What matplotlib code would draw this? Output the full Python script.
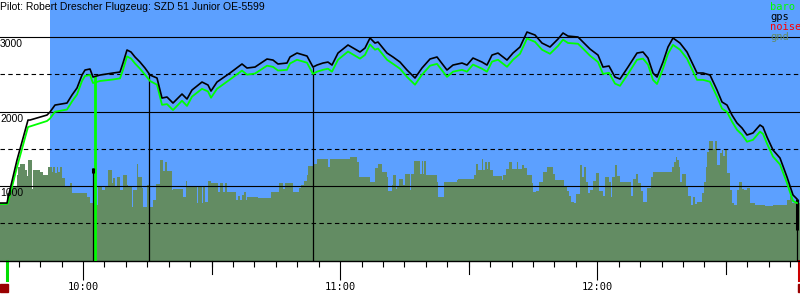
import matplotlib
matplotlib.use("Agg")
import matplotlib.pyplot as plt
import matplotlib.transforms as mtransforms
import numpy as np

# time in seconds relative to 10:00, altitude in m
title = "Pilot: Robert Drescher Flugzeug: SZD 51 Junior OE-5599"

gps_t = [-1162, -1064, -1050, -924, -770, -742, -504, -462, -392, -224, -154, -84, -14, 28, 98,
         140, 238, 420, 518, 560, 616, 672, 728, 798, 868, 938, 1036, 1106, 1176, 1260, 1386,
         1456, 1526, 1666, 1750, 1792, 1876, 2058, 2226, 2296, 2408, 2576, 2660, 2730, 2856,
         2898, 2996, 3136, 3220, 3276, 3360, 3430, 3486, 3570, 3710, 3878, 3948, 4018, 4088,
         4130, 4256, 4340, 4438, 4536, 4648, 4746, 4858, 4956, 5096, 5180, 5306, 5376, 5460,
         5586, 5656, 5726, 5810, 5936, 6020, 6118, 6216, 6328, 6426, 6538, 6650, 6720, 6790,
         6930, 7000, 7098, 7210, 7280, 7364, 7448, 7518, 7630, 7756, 7840, 7910, 7980, 8036,
         8120, 8190, 8260, 8358, 8456, 8596, 8680, 8778, 8876, 8946, 9016, 9086, 9156, 9226,
         9296, 9380, 9478, 9520, 9576, 9660, 9758, 9856, 9940, 9996]
gps_alt = [772, 772, 839, 1349, 1886, 1886, 1953, 1994, 2087, 2114, 2222, 2316, 2490, 2557, 2571,
           2463, 2490, 2517, 2530, 2651, 2826, 2799, 2732, 2664, 2584, 2490, 2450, 2181, 2195, 2114, 2235,
           2168, 2289, 2396, 2356, 2275, 2396, 2517, 2638, 2584, 2597, 2705, 2691, 2638, 2651,
           2732, 2785, 2745, 2597, 2624, 2651, 2664, 2624, 2785, 2893, 2799, 2852, 2987, 2919,
           2933, 2785, 2732, 2664, 2557, 2450, 2584, 2705, 2732, 2557, 2624, 2651, 2624, 2718,
           2664, 2624, 2758, 2785, 2691, 2785, 2866, 3067, 3027, 2919, 2866, 2973, 3054, 3013,
           3000, 2933, 2839, 2758, 2597, 2611, 2463, 2436, 2597, 2785, 2799, 2718, 2517, 2463,
           2664, 2866, 2987, 2919, 2799, 2517, 2517, 2490, 2289, 2128, 2087, 1953, 1846, 1779,
           1685, 1712, 1819, 1792, 1658, 1484, 1376, 1121, 880, 826]
baro_alt = [759, 759, 772, 1255, 1792, 1800, 1873, 1906, 1997, 2027, 2135, 2228, 2410, 2477, 2490,
            2383, 2410, 2430, 2445, 2560, 2740, 2712, 2645, 2575, 2495, 2410, 2360, 2090, 2100, 2020, 2145,
            2075, 2200, 2305, 2270, 2185, 2305, 2430, 2550, 2495, 2510, 2615, 2600, 2550, 2560,
            2645, 2695, 2655, 2505, 2535, 2560, 2575, 2535, 2695, 2805, 2710, 2760, 2900, 2830,
            2845, 2695, 2640, 2575, 2465, 2360, 2495, 2615, 2640, 2465, 2535, 2560, 2535, 2630,
            2575, 2535, 2670, 2695, 2600, 2695, 2775, 2980, 2935, 2830, 2775, 2880, 2965, 2920,
            2910, 2845, 2750, 2665, 2505, 2520, 2375, 2345, 2505, 2695, 2710, 2630, 2425, 2370,
            2575, 2775, 2895, 2830, 2710, 2425, 2425, 2400, 2200, 2040, 1995, 1865, 1755, 1690,
            1595, 1620, 1730, 1700, 1570, 1395, 1290, 1040, 800, 772]

gnd_t = [-1162, -1064, -1022, -924, -910, -882, -812, -784, -770, -714, -700, -602, -560, -490,
         -434, -420, -392, -364, -350, -322, -294, -252, -182, -154, 56, 98, 168, 210, 266, 308,
         350, 406, 420, 448, 476, 518, 560, 616, 630, 686, 700, 756, 770, 826, 840, 896, 938,
         980, 1022, 1078, 1120, 1148, 1176, 1246, 1260, 1400, 1442, 1456, 1596, 1610, 1666,
         1680, 1708, 1750, 1792, 1890, 1918, 1960, 1988, 2016, 2142, 2170, 2198, 2226, 2254,
         2282, 2296, 2450, 2632, 2744, 2800, 2828, 2940, 3024, 3052, 3094, 3136, 3150, 3220,
         3276, 3430, 3458, 3738, 3836, 3864, 4018, 4088, 4130, 4186, 4256, 4270, 4326, 4340,
         4382, 4396, 4424, 4480, 4508, 4578, 4592, 4634, 4718, 4746, 4760, 4774, 4802, 4956,
         4970, 5054, 5236, 5250, 5474, 5502, 5530, 5586, 5600, 5628, 5656, 5670, 5698, 5740,
         5866, 5880, 5922, 5964, 6006, 6076, 6090, 6146, 6174, 6216, 6286, 6300, 6342, 6384,
         6440, 6496, 6580, 6608, 6734, 6776, 6804, 6832, 6874, 6902, 6958, 6986, 7014, 7042,
         7070, 7098, 7140, 7182, 7224, 7280, 7308, 7364, 7392, 7406, 7448, 7476, 7518, 7672,
         7700, 7742, 7770, 7812, 7840, 7896, 7952, 7980, 8246, 8274, 8302, 8316, 8344, 8358,
         8386, 8442, 8470, 8512, 8540, 8568, 8596, 8666, 8694, 8722, 8736, 8764, 8820, 8848,
         8876, 8918, 8946, 8960, 8988, 9016, 9058, 9086, 9114, 9156, 9184, 9226, 9254, 9296,
         9338, 9408, 9548, 9660, 9856, 9898, 9926, 10038]
gnd_alt = [759, 906, 987, 1148, 1255, 1296, 1215, 1135, 1349, 960, 1215, 1188, 1148, 1255,
           1188, 1255, 1175, 1255, 1188, 1255, 1108, 987, 1041, 906, 853, 772, 745, 1000, 947, 1000,
           1215, 1041, 1108, 987, 1121, 947, 1148, 1014, 987, 718, 947, 1296, 1121, 974, 718, 1014, 718,
           813, 1027, 1349, 1202, 1322, 1202, 947, 960, 853, 1068, 1000, 772, 1000, 772,
           1000, 786, 1068, 1041, 920, 1041, 920, 1041, 920, 813, 866, 813, 880, 920,
           813, 853, 839, 920, 1041, 960, 1041, 920, 974, 1014, 1068, 1148, 1269, 1296,
           1363, 1255, 1363, 1390, 1322, 1121, 1054, 1242, 1296, 1188, 1121, 933, 1014, 1148,
           960, 1000, 1094, 1014, 1161, 947, 1161, 1336, 1161, 1336, 1161, 1336, 1148, 1054,
           853, 1054, 1081, 1094, 1148, 1296, 1215, 1363, 1215, 1322, 1229, 1322, 1215, 1135,
           1081, 1148, 1229, 1322, 1229, 1322, 1229, 1282, 1242, 1148, 1041, 920, 933, 1054,
           1188, 1255, 1161, 1081, 1000, 933, 866, 786, 772, 893, 1282, 1121, 1255, 1054,
           906, 947, 1068, 1175, 933, 866, 1121, 1054, 853, 1121, 1282, 1135, 1054, 866,
           1094, 1161, 1041, 933, 786, 974, 1121, 1188, 1255, 1322, 1390, 1349, 1255, 1054,
           1161, 987, 866, 745, 853, 759, 786, 906, 1054, 1255, 1457, 1604, 1497, 1604,
           1282, 1443, 1483, 1403, 1483, 1175, 947, 772, 745, 947, 1054, 960, 947, 974,
           772, 745, 732, 745, 813, 866, 772, 772]

# vertical markers: time, colour, top altitude (None -> on gps curve)
mark_t = [168, 140, 924, 3220, 9996]
mark_c = ["#00ff00", "black", "black", "black", "black"]
mark_top = [None, 1240, None, None, None]

legend_names = ["baro", "gps", "noise", "gnd"]
legend_colors = ["#00ff00", "black", "red", "#638c63"]

t_min, t_max = -1162, 10038
gps_start = -462

fig = plt.figure(figsize=(8, 3), dpi=100)
ax = fig.add_axes([0, 39 / 300, 1, 261 / 300])
ax.set_xlim(t_min, t_max)
ax.set_ylim(-6, 3497)

ax.axvspan(gps_start, t_max, color="#5ca0ff", lw=0, zorder=0)
ax.fill_between(gnd_t, gnd_alt, -10, step="post", color="#638c63", lw=0, zorder=1)

for v in [1000, 2000, 3000]:
    ax.axhline(v, color="black", lw=0.8, zorder=2)
    ax.annotate(str(v), xy=(t_min, v), xytext=(0, -1.5), textcoords="offset points",
                ha="left", va="top", fontsize=7.5, family="Liberation Sans", zorder=5)
for v in [500, 1500, 2500]:
    ax.axhline(v, color="black", lw=0.8, ls=(0, (4, 3)), zorder=2)

for t, c, top in zip(mark_t, mark_c, mark_top):
    if top is None:
        top = np.interp(t, gps_t, gps_alt)
    lw = 2.0 if c != "black" else 0.9
    ax.vlines(t, -10, top, color=c, lw=lw, zorder=3)
ax.vlines(mark_t[1], 1180, 1240, color="black", lw=2.2, zorder=3)
ax.vlines(mark_t[-1], 410, gps_alt[-1], color="black", lw=2.2, zorder=3)

ax.plot(gps_t, baro_alt, color="#00ff00", lw=1.3, zorder=4)
ax.plot(gps_t, gps_alt, color="black", lw=1.2, zorder=4)

for s in ["left", "right", "top"]:
    ax.spines[s].set_visible(False)
ax.spines["bottom"].set_linewidth(1.0)
ax.set_yticks([])

ax.set_xticks([0, 3600, 7200])
ax.set_xticklabels(["10:00", "11:00", "12:00"], family="DejaVu Sans Mono", fontsize=7.5)
ax.set_xticks(np.arange(-900, 10000, 300), minor=True)
ax.tick_params(axis="x", which="major", length=13.7, width=0.8, pad=1.5)
ax.tick_params(axis="x", which="minor", length=4.3, width=0.8)
trans = mtransforms.blended_transform_factory(ax.transData, ax.transAxes)
for t in [-1800, 1800, 5400, 9000]:
    ax.plot([t, t], [0, -13 / 261], color="black", lw=0.8, transform=trans, clip_on=False)

# start / end markers under the axis
ax.plot([-1064, -1064], [0, -19 / 261], color="#00dd00", lw=2.2, transform=trans, clip_on=False)
ax.plot([t_max - 20, t_max - 20], [0, -19 / 261], color="#cc0000", lw=2.2, transform=trans, clip_on=False)
fig.patches.append(plt.Rectangle((0, 8 / 300), 8 / 800, 8 / 300, color="#990000",
                                 transform=fig.transFigure, figure=fig))
fig.patches.append(plt.Rectangle((798 / 800, 8 / 300), 2 / 800, 8 / 300, color="#990000",
                                 transform=fig.transFigure, figure=fig))

fig.text(0.0, 1 - 10 / 300, title, fontsize=7.5, family="Liberation Sans", va="baseline")
for i, (name, col) in enumerate(zip(legend_names, legend_colors)):
    fig.text(770 / 800, 1 - (10 + 10 * i) / 300, name, color=col, fontsize=7.5,
             family="DejaVu Sans Mono", va="baseline")

fig.savefig("out.png", dpi=100)
